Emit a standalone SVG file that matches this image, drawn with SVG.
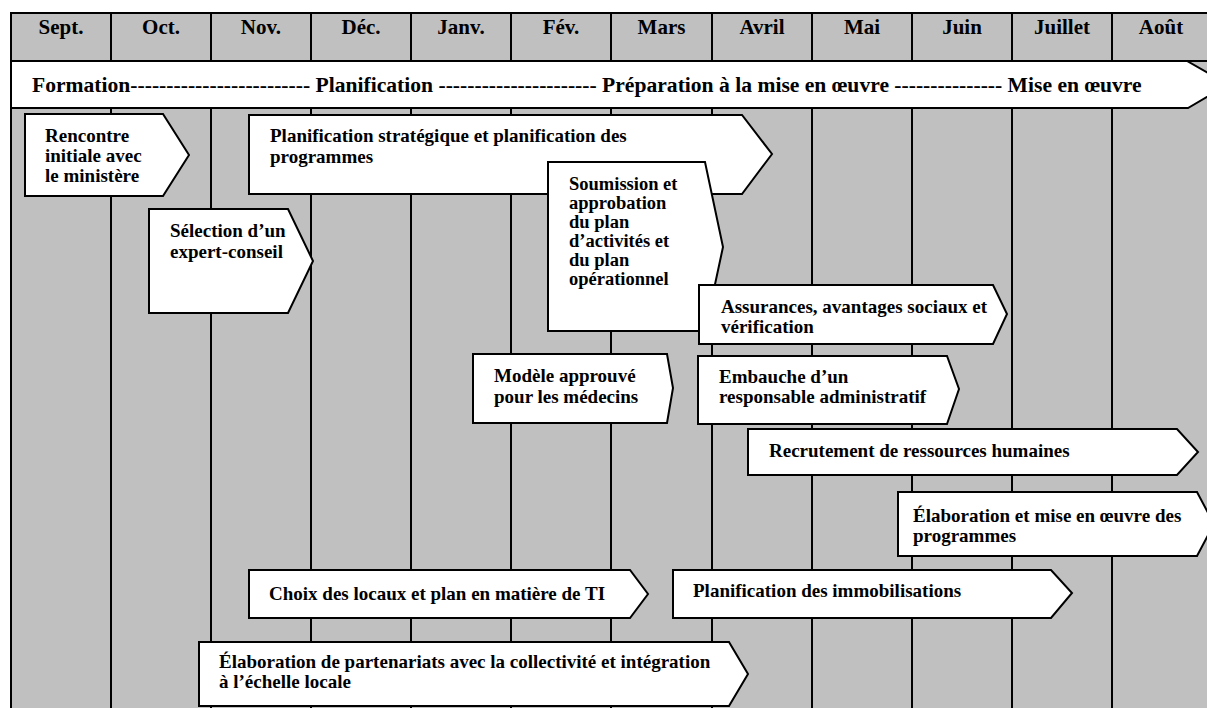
<svg xmlns="http://www.w3.org/2000/svg" width="1207" height="708" viewBox="0 0 1207 708">
<style>
.t{font-family:"Liberation Serif","Times New Roman","DejaVu Serif",serif;font-weight:bold;fill:#000}
.h{font-size:21px;text-anchor:middle}
.b{font-size:19px}
.s{font-size:18.5px}
.box{fill:#fff;stroke:#000;stroke-width:2;stroke-linejoin:miter}
.g{stroke:#000;stroke-width:2;fill:none}
</style>
<rect x="0" y="0" width="1207" height="708" fill="#fff"/>
<rect x="11" y="13" width="1200" height="700" fill="#c0c0c0"/>
<g id="grid" class="g">
<path d="M11 13V708M111 13V708M211 13V708M311 13V708M411 13V708M511 13V708M611 13V708M712 13V708M812 13V708M912 13V708M1012 13V708M1112 13V708M10 13H1207M11 61H1207"/>
</g>
<g id="header" class="t h">
<text x="61" y="34">Sept.</text>
<text x="161" y="34">Oct.</text>
<text x="261" y="34">Nov.</text>
<text x="361" y="34">Déc.</text>
<text x="461" y="34">Janv.</text>
<text x="561" y="34">Fév.</text>
<text x="661.5" y="34">Mars</text>
<text x="762" y="34">Avril</text>
<text x="862" y="34">Mai</text>
<text x="962" y="34">Juin</text>
<text x="1062" y="34">Juillet</text>
<text x="1161" y="34">Août</text>
</g>
<g id="phases">
<polygon class="box" points="11,61 1187,61 1228,84.5 1188,108 11,108"/>
<text class="t" x="32" y="92" font-size="21.6">Formation------------------------- Planification ---------------------- Préparation à la mise en œuvre --------------- Mise en œuvre</text>
</g>
<g id="rencontre">
<polygon class="box" points="25,114 163,114 189,155 163,196 25,196"/>
<text class="t b" x="45" y="142">Rencontre</text>
<text class="t b" x="45" y="162">initiale avec</text>
<text class="t b" x="45" y="182">le ministère</text>
</g>
<g id="planification-strategique">
<polygon class="box" points="249,115 742,115 772,154 742,194 249,194"/>
<text class="t b" x="270" y="142">Planification stratégique et planification des</text>
<text class="t b" x="270" y="163">programmes</text>
</g>
<g id="selection">
<polygon class="box" points="149,209 288,209 313,261 288,313 149,313"/>
<text class="t b" x="170" y="237">Sélection d’un</text>
<text class="t b" x="170" y="258">expert-conseil</text>
</g>
<g id="soumission">
<polygon class="box" points="548,162 705,162 723,247 705,331 548,331"/>
<text class="t s" x="569" y="190">Soumission et</text>
<text class="t s" x="569" y="209">approbation</text>
<text class="t s" x="569" y="228">du plan</text>
<text class="t s" x="569" y="247">d’activités et</text>
<text class="t s" x="569" y="266">du plan</text>
<text class="t s" x="569" y="285">opérationnel</text>
</g>
<g id="assurances">
<polygon class="box" points="699,285 993,285 1007,314 993,344 699,344"/>
<text class="t b" x="721" y="313">Assurances, avantages sociaux et</text>
<text class="t b" x="721" y="333">vérification</text>
</g>
<g id="embauche">
<polygon class="box" points="698,356 947,356 959,389 947,424 698,424"/>
<text class="t b" x="719" y="383">Embauche d’un</text>
<text class="t b" x="719" y="403">responsable administratif</text>
</g>
<g id="modele">
<polygon class="box" points="473,354 667,354 673,388 667,423 473,423"/>
<text class="t b" x="494" y="382">Modèle approuvé</text>
<text class="t b" x="494" y="403">pour les médecins</text>
</g>
<g id="recrutement">
<polygon class="box" points="748,429 1177,429 1198,452 1177,475 748,475"/>
<text class="t b" x="769" y="457">Recrutement de ressources humaines</text>
</g>
<g id="elaboration-programmes">
<polygon class="box" points="898,492 1197,492 1214,524 1197,556 898,556"/>
<text class="t b" x="913" y="522">Élaboration et mise en œuvre des</text>
<text class="t b" x="913" y="542">programmes</text>
</g>
<g id="choix-locaux">
<polygon class="box" points="249,570 630,570 648,594 630,618 249,618"/>
<text class="t b" x="269" y="600">Choix des locaux et plan en matière de TI</text>
</g>
<g id="immobilisations">
<polygon class="box" points="673,570 1051,570 1072,593 1051,618 673,618"/>
<text class="t b" x="693" y="597">Planification des immobilisations</text>
</g>
<g id="partenariats">
<polygon class="box" points="199,642 729,642 748,674 729,706 199,706"/>
<text class="t b" x="219" y="668">Élaboration de partenariats avec la collectivité et intégration</text>
<text class="t b" x="219" y="688">à l’échelle locale</text>
</g>
</svg>
